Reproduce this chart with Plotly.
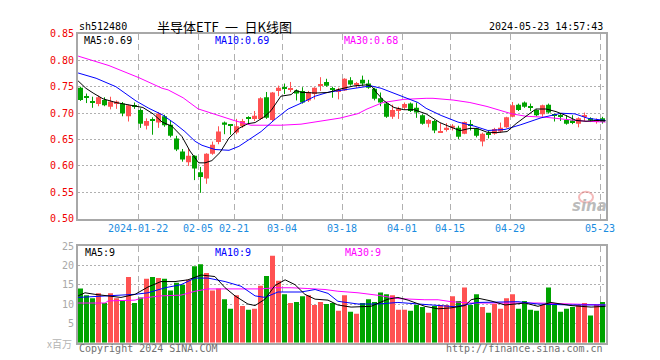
import plotly.graph_objects as go

W, H = 660, 360

# ---------------- data ----------------
dates = [
    "2024-01-08","2024-01-09","2024-01-10","2024-01-11","2024-01-12","2024-01-15","2024-01-16","2024-01-17",
    "2024-01-18","2024-01-19","2024-01-22","2024-01-23","2024-01-24","2024-01-25","2024-01-26","2024-01-29",
    "2024-01-30","2024-01-31","2024-02-01","2024-02-02","2024-02-05","2024-02-06","2024-02-07","2024-02-08",
    "2024-02-19","2024-02-20","2024-02-21","2024-02-22","2024-02-23","2024-02-26","2024-02-27","2024-02-28",
    "2024-02-29","2024-03-01","2024-03-04","2024-03-05","2024-03-06","2024-03-07","2024-03-08","2024-03-11",
    "2024-03-12","2024-03-13","2024-03-14","2024-03-15","2024-03-18","2024-03-19","2024-03-20","2024-03-21",
    "2024-03-22","2024-03-25","2024-03-26","2024-03-27","2024-03-28","2024-03-29","2024-04-01","2024-04-02",
    "2024-04-03","2024-04-08","2024-04-09","2024-04-10","2024-04-11","2024-04-12","2024-04-15","2024-04-16",
    "2024-04-17","2024-04-18","2024-04-19","2024-04-22","2024-04-23","2024-04-24","2024-04-25","2024-04-26",
    "2024-04-29","2024-04-30","2024-05-06","2024-05-07","2024-05-08","2024-05-09","2024-05-10","2024-05-13",
    "2024-05-14","2024-05-15","2024-05-16","2024-05-17","2024-05-20","2024-05-21","2024-05-22","2024-05-23",
]

opens = [0.748,0.732,0.723,0.717,0.725,0.712,0.719,0.718,0.694,0.714,0.706,0.676,0.689,0.682,0.694,0.678,
         0.652,0.627,0.607,0.619,0.588,0.576,0.623,0.645,0.682,0.678,0.663,0.675,0.692,0.689,0.689,0.730,
         0.687,0.742,0.749,0.745,0.743,0.742,0.724,0.736,0.752,0.759,0.747,0.740,0.743,0.762,0.755,0.763,
         0.756,0.746,0.728,0.718,0.693,0.704,0.710,0.718,0.710,0.696,0.680,0.685,0.664,0.669,0.672,0.672,
         0.661,0.678,0.671,0.646,0.660,0.661,0.665,0.673,0.693,0.716,0.720,0.712,0.706,0.698,0.716,0.696,
         0.694,0.687,0.686,0.680,0.693,0.690,0.684,0.690]
highs = [0.750,0.737,0.731,0.733,0.730,0.731,0.724,0.721,0.716,0.720,0.709,0.690,0.692,0.702,0.697,0.687,
         0.657,0.632,0.632,0.620,0.598,0.624,0.646,0.675,0.684,0.679,0.689,0.689,0.694,0.704,0.730,0.740,
         0.740,0.752,0.756,0.759,0.745,0.749,0.742,0.749,0.768,0.765,0.750,0.748,0.766,0.768,0.759,0.771,
         0.763,0.748,0.739,0.721,0.716,0.712,0.720,0.720,0.720,0.698,0.689,0.687,0.681,0.681,0.679,0.676,
         0.684,0.687,0.672,0.663,0.666,0.672,0.682,0.693,0.721,0.718,0.722,0.718,0.707,0.716,0.718,0.699,
         0.699,0.696,0.696,0.692,0.701,0.692,0.690,0.693]
lows = [0.723,0.719,0.710,0.713,0.713,0.707,0.708,0.694,0.684,0.708,0.672,0.669,0.659,0.672,0.674,0.654,
        0.628,0.608,0.600,0.573,0.549,0.566,0.621,0.641,0.660,0.659,0.660,0.672,0.679,0.685,0.687,0.689,
        0.685,0.732,0.736,0.740,0.724,0.718,0.721,0.726,0.742,0.750,0.729,0.726,0.742,0.752,0.748,0.752,
        0.746,0.724,0.713,0.691,0.689,0.689,0.707,0.702,0.691,0.678,0.673,0.662,0.663,0.665,0.667,0.651,
        0.660,0.667,0.654,0.637,0.652,0.659,0.663,0.672,0.692,0.704,0.710,0.704,0.694,0.693,0.699,0.684,
        0.685,0.678,0.679,0.673,0.685,0.683,0.680,0.680]
closes = [0.725,0.730,0.721,0.730,0.715,0.722,0.722,0.699,0.715,0.712,0.680,0.685,0.685,0.699,0.677,0.657,
          0.631,0.612,0.619,0.595,0.579,0.623,0.640,0.665,0.678,0.676,0.675,0.685,0.690,0.695,0.728,0.691,
          0.739,0.748,0.747,0.747,0.737,0.720,0.740,0.748,0.754,0.752,0.745,0.745,0.765,0.754,0.757,0.756,
          0.748,0.727,0.720,0.693,0.706,0.709,0.717,0.704,0.701,0.680,0.687,0.667,0.665,0.672,0.676,0.655,
          0.683,0.677,0.657,0.661,0.659,0.670,0.672,0.692,0.715,0.706,0.712,0.711,0.696,0.715,0.701,0.695,
          0.693,0.680,0.681,0.690,0.694,0.686,0.686,0.683]

# volume, millions
volumes = [14.0,12.25,11.5,12.75,10.25,12.75,11.5,11.0,17.0,10.25,11.7,16.5,17.0,16.75,16.5,13.5,
           15.5,15.0,16.25,19.75,20.25,18.0,13.5,14.0,11.25,8.75,12.25,9.5,8.5,8.75,14.75,17.25,
           22.5,16.0,12.5,10.25,10.5,12.0,12.25,9.75,10.5,10.0,10.25,8.25,12.25,8.0,7.5,10.25,
           11.25,10.5,13.0,12.5,12.25,8.5,8.5,8.25,9.75,9.25,7.75,9.5,9.75,9.75,12.0,10.75,
           14.25,9.75,12.5,9.25,7.75,10.0,8.75,11.5,12.5,8.75,10.75,8.5,8.25,9.75,14.25,9.75,
           8.0,8.75,9.25,9.75,10.25,7.0,9.75,10.5]

# moving-average lines (day index, value)
ma5_day = [-0.4,0.9,2.1,3.75,5.9,8.1,10.4,12.1,13.6,15.25,16.9,18.25,19.7,20.75,21.9,23.25,24.75,26.4,27.9,
           29.1,30.75,31.75,33.4,35.1,35.9,36.75,39.1,41.25,43.25,45.6,47.75,48.6,49.4,50.6,52.25,53.9,55.6,
           57.6,59.9,61.6,63.25,64.9,66.1,67.75,69.4,71.1,72.6,74.25,75.9,77.6,79.25,80.9,82.6,84.25,85.9,87.5]
ma5_val = [0.761,0.747,0.738,0.727,0.720,0.715,0.7106,0.6985,0.683,0.675,0.6557,0.628,0.6057,0.6057,0.610,
           0.6253,0.6527,0.671,0.680,0.682,0.694,0.7046,0.732,0.735,0.743,0.7394,0.738,0.739,0.7455,0.7516,
           0.7535,0.750,0.738,0.723,0.7106,0.7064,0.7064,0.6985,0.682,0.674,0.6667,0.671,0.671,0.6637,0.663,
           0.665,0.680,0.694,0.7077,0.7077,0.7028,0.6955,0.686,0.6845,0.686,0.6855]
ma10_day = [-0.4,2.6,5.9,9.25,11.4,13.6,15.75,17.4,19.1,20.25,22.4,24.75,26.4,28.9,30.1,32.4,34.6,36.75,39.1,
            41.25,43.25,45.6,48.4,50.1,52.25,54.4,56.25,57.6,60.1,62.9,65.75,67.9,70.75,73.4,76.75,80.1,82.4,
            84.6,87.5]
ma10_val = [0.776,0.766,0.750,0.723,0.709,0.697,0.680,0.665,0.6465,0.639,0.631,0.6295,0.637,0.6557,0.665,
            0.688,0.7077,0.7187,0.732,0.7394,0.743,0.747,0.7516,0.747,0.738,0.729,0.720,0.709,0.6955,0.683,
            0.675,0.667,0.669,0.678,0.691,0.6997,0.6985,0.690,0.686]
ma30_day = [-0.4,4.75,9.75,13.6,14.6,17.1,19.6,22.1,25.6,28.4,33.4,36.75,40.1,43.25,46.25,47.75,50.4,53.9,
            57.6,58.75,62.1,64.9,67.75,70.4,71.9,74.25,77.6,80.9,84.25,87.5]
ma30_val = [0.808,0.790,0.767,0.747,0.744,0.729,0.708,0.6985,0.686,0.677,0.677,0.679,0.6845,0.6905,0.699,
            0.7077,0.720,0.726,0.728,0.728,0.7247,0.720,0.7125,0.703,0.6985,0.694,0.692,0.688,0.6845,0.683]

vma5_day = [-0.4,0.75,2.4,4.6,6.75,9.1,11.25,13.4,15.75,17.9,20.1,22.4,24.1,25.75,27.9,29.1,30.75,32.4,34.1,
            35.75,37.4,39.1,41.25,42.9,45.1,48.4,51.25,52.9,54.6,57.4,59.6,61.75,64.1,65.1,66.25,68.4,70.75,
            74.1,76.25,78.4,81.75,85.1,87.5]
vma5_val = [12.1,12.9,12.5,12.1,11.7,12.5,14.4,15.8,15.8,16.25,17.5,17.1,14.2,12.1,10.0,9.6,11.25,14.75,16.25,
            15.0,12.5,11.25,11.0,9.75,9.2,9.4,11.25,11.7,11.0,9.4,8.75,9.0,9.6,11.1,11.5,10.8,9.75,10.25,9.4,
            10.4,9.6,9.2,9.4]
vma10_day = [-0.4,4.6,9.1,11.25,14.1,16.75,19.1,21.25,24.1,26.75,29.1,30.75,32.9,36.75,39.1,41.25,42.9,46.25,
             49.6,52.9,56.25,59.6,62.4,66.25,70.75,72.9,76.25,81.75,87.5]
vma10_val = [11.7,12.1,12.5,12.9,14.2,15.0,16.7,16.7,15.8,14.6,12.1,11.7,13.1,13.1,13.75,12.75,10.7,10.0,10.0,
             10.4,10.0,9.75,9.3,10.4,10.6,10.6,10.0,9.75,9.75]
vma30_day = [-0.4,4.1,4.6,9.1,10.1,13.4,16.75,19.1,21.25,26.75,30.1,32.4,35.1,37.9,40.75,42.9,46.25,49.6,52.9,
             57.4,59.6,61.75,65.1,76.25,81.75,87.5]
vma30_val = [10.25,10.25,10.8,11.0,11.5,12.1,12.3,13.3,13.9,13.9,13.9,14.2,14.2,14.0,13.75,13.3,12.9,12.25,11.4,
             11.1,11.1,10.6,10.25,10.25,10.0,9.75]

tick_dates = ["2024-01-22","2024-02-05","2024-02-21","2024-03-04","2024-03-18",
              "2024-04-01","2024-04-15","2024-04-29","2024-05-23"]
tick_text = ["2024-01-22","02-05","02-21","03-04","03-18","04-01","04-15","04-29","05-23"]
vol_grid_dates = ["2024-01-22","2024-02-05","2024-03-04","2024-04-01","2024-04-15","2024-04-29","2024-05-23"]
price_ticks = [0.50,0.55,0.60,0.65,0.70,0.75,0.80,0.85]
vol_ticks = [5,10,15,20,25]

# ---------------- style ----------------
RED = "#ff5252"
GREEN = "#00a300"
BAR_W = 5/6
MONO = "DejaVu Sans Mono"
CJK = "Noto Sans CJK SC"
GRID = "#b0b0b0"
BORDER = "#a8a8a8"

def X(px):
    return px / W

def Y(py):
    return 1 - py / H

n = len(dates)
idx = list(range(n))
up = [c >= o for o, c in zip(opens, closes)]

fig = go.Figure()

# wicks
for flag, col in ((True, RED), (False, GREEN)):
    wx, wy = [], []
    for i in idx:
        if up[i] == flag:
            wx += [i, i, None]
            wy += [lows[i], highs[i], None]
    fig.add_trace(go.Scatter(x=wx, y=wy, mode="lines", line=dict(color=col, width=1),
                             xaxis="x", yaxis="y", hoverinfo="skip"))

# bodies
for flag, col in ((True, RED), (False, GREEN)):
    bx, bb, bh = [], [], []
    for i in idx:
        if up[i] == flag:
            bx.append(i)
            bb.append(min(opens[i], closes[i]))
            bh.append(max(abs(closes[i] - opens[i]), 0.0019))
    fig.add_trace(go.Bar(x=bx, y=bh, base=bb, width=BAR_W, marker=dict(color=col, line=dict(width=0)),
                         xaxis="x", yaxis="y", hoverinfo="skip"))

# price MAs
for dx, dv, col in ((ma30_day, ma30_val, "#ff00ff"), (ma10_day, ma10_val, "#0000ff"), (ma5_day, ma5_val, "#000000")):
    fig.add_trace(go.Scatter(x=dx, y=dv, mode="lines", line=dict(color=col, width=1),
                             xaxis="x", yaxis="y", hoverinfo="skip"))

# volume bars
fig.add_trace(go.Bar(x=idx, y=volumes, width=BAR_W,
                     marker=dict(color=[RED if u else GREEN for u in up], line=dict(width=0)),
                     xaxis="x2", yaxis="y2", hoverinfo="skip"))

for dx, dv, col in ((vma30_day, vma30_val, "#ff00ff"), (vma10_day, vma10_val, "#0000ff"), (vma5_day, vma5_val, "#000000")):
    fig.add_trace(go.Scatter(x=dx, y=dv, mode="lines", line=dict(color=col, width=1),
                             xaxis="x2", yaxis="y2", hoverinfo="skip"))

xrange = [-BAR_W / 2, n - BAR_W / 2]
tick_pos = [dates.index(d) - BAR_W / 2 for d in tick_dates]
vol_grid_pos = [dates.index(d) - BAR_W / 2 for d in vol_grid_dates]

x_dom = [X(70), X(598)]
fig.update_layout(
    width=W, height=H, margin=dict(l=0, r=0, t=0, b=0),
    paper_bgcolor="white", plot_bgcolor="white",
    showlegend=False, barmode="overlay", hovermode=False,
    xaxis=dict(domain=x_dom, range=xrange, tickmode="array", tickvals=tick_pos, showticklabels=False,
               showgrid=True, gridcolor=GRID, griddash="6px,4px", gridwidth=1, zeroline=False,
               showline=True, mirror=True, linecolor=BORDER, linewidth=2, ticks="", anchor="y"),
    yaxis=dict(domain=[Y(211.7), Y(20.6)], range=[0.50, 0.85], tickmode="array", tickvals=price_ticks,
               ticktext=["%.2f" % v for v in price_ticks], showgrid=True, gridcolor=GRID, griddash="2px,2px",
               gridwidth=1, zeroline=False, showline=True, mirror=True, linecolor=BORDER, linewidth=2,
               ticks="", tickfont=dict(family=MONO, size=10, color="#f00000"), anchor="x"),
    xaxis2=dict(domain=x_dom, range=xrange, tickmode="array", tickvals=vol_grid_pos, showticklabels=False,
                showgrid=True, gridcolor=GRID, griddash="6px,4px", gridwidth=1, zeroline=False,
                showline=True, mirror=True, linecolor=BORDER, linewidth=2, ticks="", anchor="y2"),
    yaxis2=dict(domain=[Y(340), Y(240)], range=[0, 25], tickmode="array", tickvals=vol_ticks,
                ticktext=[str(v) for v in vol_ticks], showgrid=True, gridcolor=GRID, griddash="2px,2px",
                gridwidth=1, zeroline=False, showline=True, mirror=True, linecolor=BORDER, linewidth=2,
                ticks="", tickfont=dict(family=MONO, size=10, color="#a8a8a8"), anchor="x2"),
)

# date labels under the price panel, centred on their grid lines
for pos, txt in zip(tick_pos, tick_text):
    fig.add_annotation(text=txt, x=pos, xref="x", y=Y(221.5), yref="paper", xanchor="center",
                       yanchor="middle", showarrow=False,
                       font=dict(family=MONO, size=10, color="#1a8ce0"))

def note(text, px, py, anchor="left", size=10, color="#000", family=MONO, **kw):
    fig.add_annotation(text=text, x=X(px), y=Y(py), xref="paper", yref="paper", xanchor=anchor,
                       yanchor="middle", showarrow=False,
                       font=dict(family=family, size=size, color=color, **kw))

note("sh512480", 69, 13)
note("半导体ETF\u2002一\u2002日K线图", 216, 13, anchor="center", size=13, family=CJK)
note("2024-05-23 14:57:43", 597, 13, anchor="right")
note("MA5:0.69", 74, 27)
note("MA10:0.69", 205, 27, color="#0000ff")
note("MA30:0.68", 334, 27, color="#ff00ff")
note("MA5:9", 75, 247)
note("MA10:9", 205, 247, color="#0000ff")
note("MA30:9", 335, 247, color="#ff00ff")
note("x百万", 66, 341, anchor="right", size=10, color="#b4b4b4", family=CJK)
note("Copyright 2024 SINA.COM", 69, 346, color="#707070")
note("http://finance.sina.com.cn", 597, 346, anchor="right", color="#707070")
note("sina", 581, 199, anchor="center", size=15, color="rgba(175,175,175,0.85)",
     family="DejaVu Sans", style="italic", weight="bold")

fig.add_shape(type="circle", xref="paper", yref="paper", x0=X(571), x1=X(585), y0=Y(195), y1=Y(184),
              line=dict(color="rgba(235,130,130,0.55)", width=2), fillcolor="rgba(255,255,255,0)")

fig.write_html("out.html")
